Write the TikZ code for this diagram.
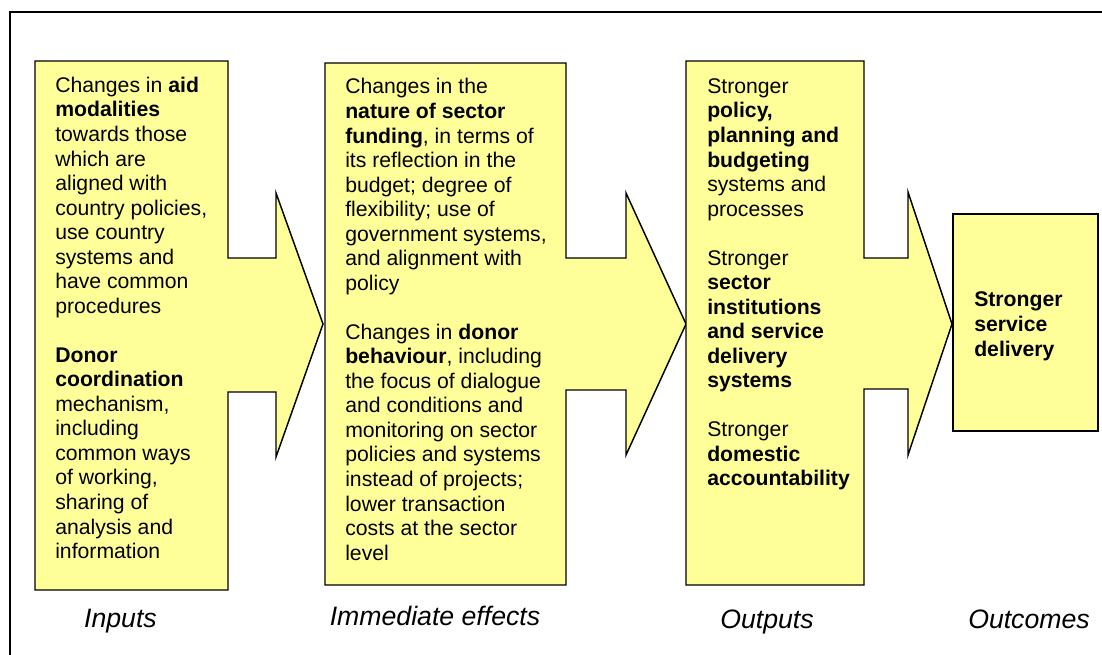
\documentclass[tikz,border=0pt]{standalone}
\usepackage{fontspec}
\setmainfont{Liberation Sans}
\definecolor{boxyellow}{HTML}{FFFF99}
\begin{document}
\begin{tikzpicture}[x=0.75pt,y=-0.75pt,
  flow/.style={draw=black, line width=1.1pt, fill=boxyellow, line join=miter},
  body/.style={anchor=north west, inner sep=0pt, align=left, font=\fontsize{15.9}{18.4}\selectfont},
  stage/.style={anchor=base, inner sep=0pt, font=\fontsize{20}{24}\selectfont\itshape}]
\useasboundingbox (0,0) rectangle (1102,655);
\draw[line width=1.5pt] (10,655) -- (10,12) -- (1102,12);

% box 1 with arrow
\draw[flow] (35,61) -- (228,61) -- (228,258) -- (276,258) -- (276,193) -- (323,324)
  -- (276,457) -- (276,392) -- (228,392) -- (228,590) -- (35,590) -- cycle;
% box 2 with arrow
\draw[flow] (325,63) -- (566,63) -- (566,258) -- (626,258) -- (626,193) -- (686,324)
  -- (626,455) -- (626,390) -- (566,390) -- (566,585) -- (325,585) -- cycle;
% box 3 with arrow
\draw[flow] (686,61) -- (864,61) -- (864,258) -- (908,258) -- (908,192) -- (952,324)
  -- (908,455) -- (908,389) -- (864,389) -- (864,585) -- (686,585) -- cycle;
% box 4
\draw[flow] (953,214) rectangle (1098,431);

\node[body] (t1) at (55,75) {\strut Changes in \textbf{aid}\\
\textbf{modalities}\\
towards those\\
which are\\
aligned with\\
country policies,\\
use country\\
systems and\\
have common\\
procedures\\
\mbox{}\\
\textbf{Donor}\\
\textbf{coordination}\\
mechanism,\\
including\\
common ways\\
of working,\\
sharing of\\
analysis and\\
information};

\node[body] (t2) at (345,76.5) {\strut Changes in the\\
\textbf{nature of sector}\\
\textbf{funding}, in terms of\\
its reflection in the\\
budget; degree of\\
flexibility; use of\\
government systems,\\
and alignment with\\
policy\\
\mbox{}\\
Changes in \textbf{donor}\\
\textbf{behaviour}, including\\
the focus of dialogue\\
and conditions and\\
monitoring on sector\\
policies and systems\\
instead of projects;\\
lower transaction\\
costs at the sector\\
level};

\node[body] (t3) at (707,76) {\strut Stronger\\
\textbf{policy,}\\
\textbf{planning and}\\
\textbf{budgeting}\\
systems and\\
processes\\
\mbox{}\\
Stronger\\
\textbf{sector}\\
\textbf{institutions}\\
\textbf{and service}\\
\textbf{delivery}\\
\textbf{systems}\\
\mbox{}\\
Stronger\\
\textbf{domestic}\\
\textbf{accountability}};

\node[body] (t4) at (974,289.5) {\strut\textbf{Stronger}\\
\textbf{service}\\
\textbf{delivery}};

\node[stage] (l1) at (120.5,627) {Inputs};
\node[stage] (l2) at (435,625) {Immediate effects};
\node[stage] (l3) at (767,628) {Outputs};
\node[stage] (l4) at (1029,628) {Outcomes};
\end{tikzpicture}
\end{document}
